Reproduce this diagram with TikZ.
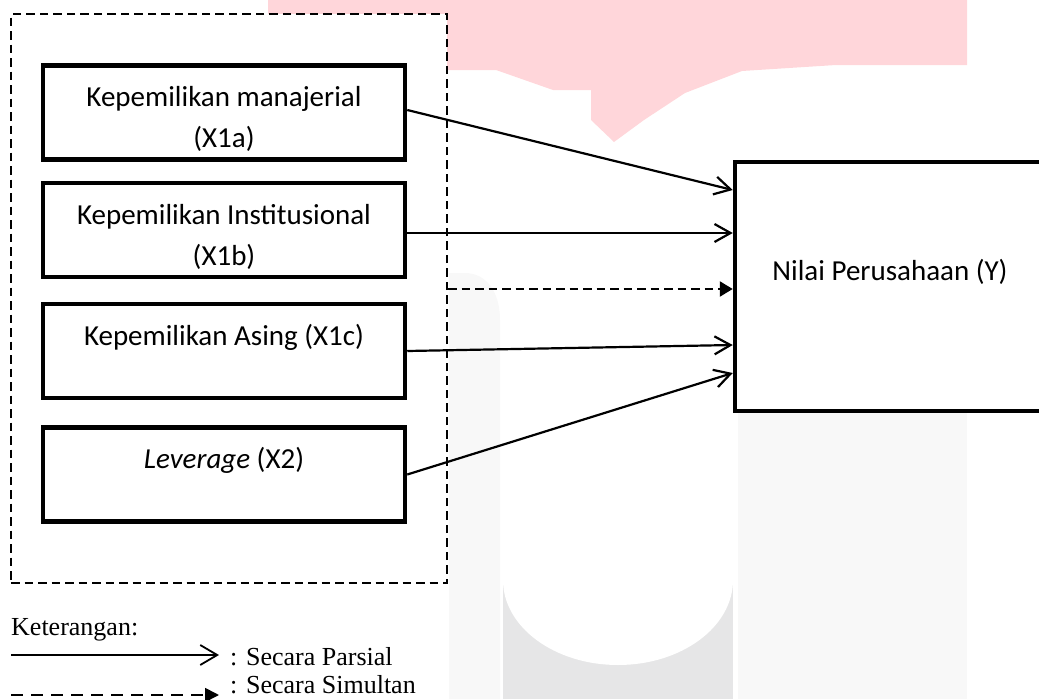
\documentclass[tikz,border=0pt]{standalone}
\usepackage{fontspec}
\setmainfont{Carlito}
\newfontfamily\legendfont{Liberation Serif}
\usetikzlibrary{arrows.meta}
\definecolor{wmpink}{RGB}{255,214,218}
\definecolor{wmlight}{RGB}{248,248,248}
\definecolor{wmgray}{RGB}{230,230,231}
\newcommand\mytop{\rule{0pt}{41pt}}
\newcommand\mybot{\rule[-12pt]{0pt}{12pt}}
\begin{document}
\begin{tikzpicture}[x=1pt,y=-1pt,
  varbox/.style={draw, line width=4.5pt, fill=white, minimum width=362pt, minimum height=93pt,
    align=center, font=\fontsize{29}{41}\selectfont, inner sep=0pt},
  groupbox/.style={draw, line width=2.3pt, dash pattern=on 8.5pt off 5pt, fill=white,
    minimum width=436pt, minimum height=569pt, inner sep=0pt},
  partial/.style={line width=2.2pt, -{Straight Barb[length=16pt,width=18pt]}},
  simul/.style={line width=2.3pt, dash pattern=on 8.5pt off 5pt, -{Triangle[length=13pt,width=15pt]}},
  legpartial/.style={line width=1.8pt, -{Straight Barb[length=17pt,width=20pt]}},
  legsimul/.style={line width=1.8pt, dash pattern=on 12pt off 8pt, -{Triangle[length=14pt,width=14pt]}},
  legtext/.style={anchor=base west, inner sep=0pt, font=\legendfont\fontsize{26}{30}\selectfont},
  ]
\useasboundingbox (0,0) rectangle (1039,699);
% faint watermark
\fill[wmpink] (268,0) -- (967,0) -- (967,65) -- (836,65) -- (742,71) -- (685,93) -- (644,120)
  -- (614,142) -- (591,120) -- (591,90) -- (553,90) -- (496,70) -- (268,70) -- cycle;
\fill[wmlight] (449,699) -- (449,273) -- (465,273) .. controls (485,273) and (500,290) .. (500,320) -- (500,699) -- cycle;
\fill[wmlight] (738,413) rectangle (967,699);
\fill[wmgray] (503,580) rectangle (733,699);
\fill[white] (503,575) -- (503,580) arc[start angle=180,end angle=0,x radius=115,y radius=85] -- (733,575) -- cycle;

% group box
\node[groupbox] (grp) at (229,298.5) {};

% variable boxes
\node[varbox] (A) at (224,112.5) {\mytop Kepemilikan manajerial\\\mybot(X1a)};
\node[varbox] (B) at (224,230) {\mytop Kepemilikan Institusional\\\mybot(X1b)};
\node[varbox] (C) at (224,351) {\mytop Kepemilikan Asing (X1c)\\\mybot};
\node[varbox] (D) at (224,474.5) {\mytop\textit{Leverage} (X2)\\\mybot};

% dependent variable
\node[draw, line width=4.5pt, fill=white, minimum width=310pt, minimum height=249pt,
  align=center, font=\fontsize{29}{41}\selectfont, inner sep=0pt] (Y) at (890,286.5)
  {\mytop Nilai Perusahaan (Y)\\\mybot};

% connectors
\draw[partial] ([yshift=2.5pt]A.east) -- ([yshift=96.5pt]Y.west);
\draw[partial] ([yshift=-3pt]B.east) -- ([yshift=53.5pt]Y.west);
\draw[simul] ([yshift=9.5pt]grp.east) -- ([yshift=-2.5pt]Y.west);
\draw[partial] (C.east) -- ([yshift=-58.5pt]Y.west);
\draw[partial] (D.east) -- ([yshift=-86.5pt]Y.west);

% legend
\node[legtext] (ket) at (11,635) {Keterangan:};
\coordinate (ls1) at (11,655);
\coordinate (le1) at (219,655);
\coordinate (ls2) at (11,695);
\coordinate (le2) at (219,695);
\draw[legpartial] (ls1) -- (le1);
\draw[legsimul] (ls2) -- (le2);
\node[legtext] (lp) at (230,665) {: Secara Parsial};
\node[legtext] (lsim) at (230,693) {: Secara Simultan};
\end{tikzpicture}
\end{document}
